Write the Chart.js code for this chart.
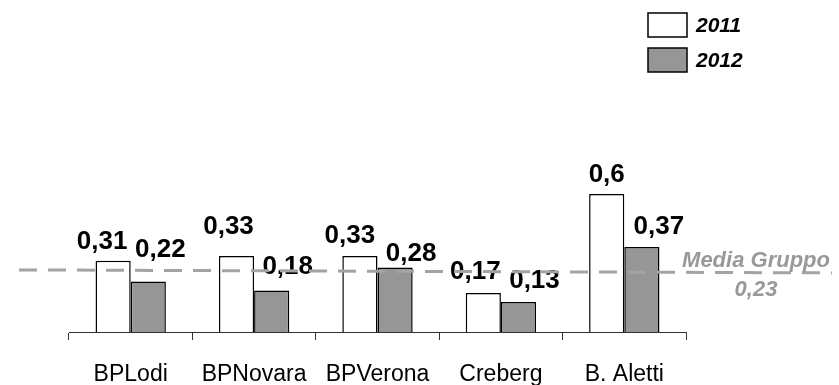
<!DOCTYPE html>
<html>
<head>
<meta charset="utf-8">
<script src="https://cdn.jsdelivr.net/npm/chart.js@4/dist/chart.umd.min.js"></script>
<style>
html,body{margin:0;padding:0;background:#fff;}
#wrap{width:839px;height:385px;}
</style>
</head>
<body>
<div id="wrap"><canvas id="c" width="839" height="385"></canvas></div>
<script>
// ---- data ----
const categories = ['BPLodi', 'BPNovara', 'BPVerona', 'Creberg', 'B. Aletti'];
const seriesNames = ['2011', '2012'];
const values2011 = [0.31, 0.33, 0.33, 0.17, 0.6];
const values2012 = [0.22, 0.18, 0.28, 0.13, 0.37];
const mediaGruppoLabel = 'Media Gruppo';
const mediaGruppoValue = 0.23;
const mediaLineLevels = [0.27, 0.257]; // level of dashed line at its left / right end (as drawn)

// ---- styling ----
const FONT = '"Liberation Sans", Arial, sans-serif';
const colors = ['#ffffff', '#969696'];
const labelShift2011 = [[-11, 12], [-8, 22], [-10, 13], [-8, 14], [0, 12]];
const labelShift2012 = [[12, 24], [16, 17], [16, 7], [16, 14], [17, 13]];
const labelShifts = [labelShift2011, labelShift2012];

const fmt = v => String(v).replace('.', ',');

const overlayPlugin = {
  id: 'overlay',
  afterDatasetsDraw(chart) {
    const ctx = chart.ctx;
    const y = chart.scales.y;
    const ca = chart.chartArea;
    // value labels
    ctx.save();
    ctx.fillStyle = '#000';
    ctx.font = 'bold 26px ' + FONT;
    ctx.textAlign = 'center';
    ctx.textBaseline = 'alphabetic';
    chart.data.datasets.forEach((ds, di) => {
      const meta = chart.getDatasetMeta(di);
      meta.data.forEach((bar, i) => {
        const s = labelShifts[di][i];
        ctx.fillText(fmt(ds.data[i]), bar.x + s[0], bar.y - s[1]);
      });
    });
    ctx.restore();
    // dashed average line
    ctx.save();
    ctx.strokeStyle = '#a3a3a3';
    ctx.lineWidth = 3;
    ctx.setLineDash([18, 11]);
    ctx.beginPath();
    ctx.moveTo(ca.left - 50, y.getPixelForValue(mediaLineLevels[0]));
    ctx.lineTo(ca.right + 146, y.getPixelForValue(mediaLineLevels[1]));
    ctx.stroke();
    ctx.restore();
    // average label
    ctx.save();
    ctx.fillStyle = '#999999';
    ctx.font = 'italic bold 22px ' + FONT;
    ctx.textAlign = 'center';
    const yr = y.getPixelForValue(mediaLineLevels[1]);
    ctx.fillText(mediaGruppoLabel, ca.right + 70, yr - 6);
    ctx.fillText(fmt(mediaGruppoValue), ca.right + 70, yr + 23);
    ctx.restore();
    // legend
    ctx.save();
    chart.data.datasets.forEach((ds, di) => {
      const top = 13 + di * 35;
      ctx.fillStyle = ds.backgroundColor;
      ctx.fillRect(648, top, 39, 24);
      ctx.strokeStyle = '#000';
      ctx.lineWidth = 1.5;
      ctx.strokeRect(648, top, 39, 24);
      ctx.fillStyle = '#000';
      ctx.font = 'italic bold 21px ' + FONT;
      ctx.textAlign = 'left';
      ctx.textBaseline = 'alphabetic';
      ctx.fillText(ds.label, 696, top + 19);
    });
    ctx.restore();
  }
};

new Chart(document.getElementById('c'), {
  type: 'bar',
  data: {
    labels: categories,
    datasets: [
      { label: seriesNames[0], data: values2011, backgroundColor: colors[0], borderColor: '#000', borderWidth: 1.5 },
      { label: seriesNames[1], data: values2012, backgroundColor: colors[1], borderColor: '#000', borderWidth: 1.5 }
    ]
  },
  options: {
    responsive: false,
    animation: false,
    devicePixelRatio: 1,
    layout: { padding: { left: 69, right: 153, top: 102, bottom: 0 } },
    datasets: { bar: { categoryPercentage: 0.57, barPercentage: 1.0 } },
    plugins: { legend: { display: false }, tooltip: { enabled: false } },
    scales: {
      x: {
        offset: true,
        grid: { display: true, drawOnChartArea: false, drawTicks: true, tickLength: 8, color: '#333', lineWidth: 1, offset: true },
        border: { display: true, color: '#333', width: 1 },
        ticks: { color: '#000', font: { family: FONT, size: 23 }, padding: 21, maxRotation: 0, autoSkip: false },
        afterFit(scale) { scale.height = 53; }
      },
      y: { display: false, min: 0, max: 1 }
    }
  },
  plugins: [overlayPlugin]
});
</script>
</body>
</html>
